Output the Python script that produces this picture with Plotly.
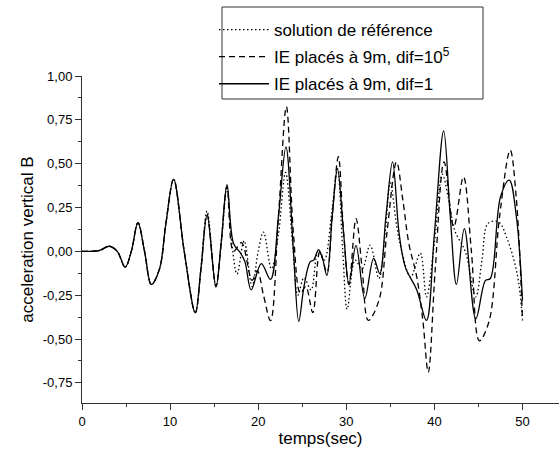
import plotly.graph_objects as go

# Time instants (s) and vertical acceleration at point B for each model
t_ref = [0, 1, 2, 3.1, 4.0, 4.9, 5.6, 6.35, 7.1, 7.87, 8.8, 9.5, 10.4, 11.6, 12.86, 13.5,
         14.2, 15.2, 15.8, 16.46, 17.0, 17.6, 18.4, 19.3, 20.0, 20.6, 21.5, 22.3, 23.1, 23.9,
         24.5, 25.2, 26.0, 26.8, 27.5, 28.3, 29.0, 29.6, 30.1, 31.0, 31.8, 32.7, 33.7, 34.4,
         35.0, 35.7, 36.3, 37.3, 38.4, 39.1, 40.0, 40.9, 41.6, 42.3, 43.5, 44.7, 45.4, 46.1,
         47.3, 48.2, 49.4, 50.0]
a_ref = [0, 0, 0.005, 0.029, 0.0, -0.09, 0.0, 0.164, 0.0, -0.189, -0.1, 0.15, 0.41, 0.0, -0.35, -0.1,
         0.23, -0.2, 0.05, 0.36, 0.05, -0.13, 0.06, -0.2, 0.0, 0.11, -0.1, 0.1, 0.45, 0.05,
         -0.25, -0.15, -0.22, 0.0, -0.05, 0.2, 0.47, 0.0, -0.33, -0.05, -0.1, 0.035, -0.155, 0.1,
         0.39, 0.15, 0.0, -0.147, -0.01, -0.26, 0.05, 0.44, 0.3, 0.12, 0.0, -0.26, -0.05, 0.16,
         0.167, 0.08, -0.13, -0.39]

t_d5 = [0, 1, 2, 3.1, 4.0, 4.9, 5.6, 6.35, 7.1, 7.87, 8.8, 9.5, 10.4, 11.6, 12.86, 13.5,
        14.2, 15.2, 15.8, 16.46, 17.2, 18.1, 19.3, 19.9, 20.6, 21.4, 22.3, 23.2, 24.0, 24.8,
        25.4, 26.2, 27.0, 27.8, 28.4, 29.1, 29.7, 30.3, 31.1, 31.8, 32.5, 33.7, 34.6, 35.7,
        36.4, 37.1, 38.0, 38.7, 39.3, 40.1, 41.1, 42.2, 43.3, 44.2, 45.1, 46.2, 47.4, 48.6,
        49.3, 50.0]
a_d5 = [0, 0, 0.005, 0.029, 0.0, -0.09, 0.0, 0.164, 0.0, -0.189, -0.1, 0.15, 0.41, 0.0, -0.35, -0.1,
        0.21, -0.2, 0.05, 0.37, 0.0, 0.05, -0.165, -0.11, -0.25, -0.395, 0.2, 0.825, 0.1, -0.24,
        -0.2, -0.35, 0.0, -0.12, 0.2, 0.54, 0.1, -0.19, 0.187, -0.1, -0.394, -0.28, 0.1, 0.51,
        0.3, 0.045, -0.147, -0.4, -0.69, -0.1, 0.51, 0.14, 0.425, 0.0, -0.51, -0.4, 0.2, 0.577,
        0.3, -0.394]

t_d1 = [0, 1, 2, 3.1, 4.0, 4.9, 5.6, 6.35, 7.1, 7.87, 8.8, 9.5, 10.4, 11.6, 12.86, 13.5,
        14.2, 15.2, 15.8, 16.46, 17.2, 18.0, 18.5, 19.2, 20.35, 21.4, 22.3, 23.15, 24.0, 24.6,
        25.2, 25.9, 26.3, 26.85, 27.3, 27.8, 28.4, 29.0, 29.7, 30.3, 31.1, 32.1, 33.1, 33.8,
        34.5, 35.25, 36.0, 36.7, 38.0, 39.1, 40.0, 41.05, 41.8, 42.5, 43.4, 44.7, 45.8, 46.35,
        47.5, 48.5, 49.3, 50.0]
a_d1 = [0, 0, 0.005, 0.029, 0.0, -0.09, 0.0, 0.164, 0.0, -0.189, -0.1, 0.15, 0.41, 0.0, -0.35, -0.1,
        0.206, -0.204, 0.05, 0.381, 0.045, -0.01, -0.06, -0.22, -0.07, -0.16, 0.2, 0.596, 0.0, -0.40,
        -0.2, -0.06, -0.05, 0.01, -0.04, -0.137, 0.2, 0.47, 0.1, -0.185, 0.034, -0.27, -0.04, -0.127,
        0.2, 0.51, 0.1, -0.09, -0.22, -0.394, 0.1, 0.687, 0.2, -0.189, 0.13, -0.385, -0.166, -0.155,
        0.31, 0.406, 0.2, -0.28]

series_names = ["solution de référence",
                "IE placés à 9m, dif=10<sup>5</sup>",
                "IE placés à 9m, dif=1"]

y_tickvals = [1.0, 0.75, 0.5, 0.25, 0.0, -0.25, -0.5, -0.75]
y_ticktext = ["1,00", "0,75", "0,50", "0,25", "0,00", "-0,25", "-0,50", "-0,75"]
x_tickvals = [0, 10, 20, 30, 40, 50]

FONT = "Liberation Sans, Arial, sans-serif"
W, H = 559, 462
L, R, T, B = 82, 0, 76, 59
pw, ph = W - L - R, H - T - B


def px_x(p):
    return (p - L) / pw


def px_y(p):
    return (H - B - p) / ph


fig = go.Figure()
fig.add_trace(go.Scatter(x=t_ref, y=a_ref, mode="lines", name=series_names[0],
                         line=dict(color="black", width=1.3, dash="1.5px,2.5px", shape="spline", smoothing=1.0),
                         legendgroup="a"))
fig.add_trace(go.Scatter(x=t_d5, y=a_d5, mode="lines", name=series_names[1],
                         line=dict(color="black", width=1.3, dash="6px,4px", shape="spline", smoothing=1.0),
                         legendgroup="b"))
fig.add_trace(go.Scatter(x=t_d1, y=a_d1, mode="lines", name=series_names[2],
                         line=dict(color="black", width=1.3, shape="spline", smoothing=1.0),
                         legendgroup="c"))

axis_common = dict(showline=True, linecolor="#333", linewidth=1, showgrid=False, zeroline=False,
                   ticks="outside", ticklen=6, tickcolor="#333", tickwidth=1,
                   tickfont=dict(family=FONT, size=13, color="black"))

fig.update_xaxes(range=[0, (W - L) / 8.81], tickvals=x_tickvals, **axis_common,
                 minor=dict(dtick=5, tick0=0, ticks="outside", ticklen=3, tickcolor="#333"),
                 title=dict(text="temps(sec)", font=dict(family=FONT, size=17, color="black"), standoff=1))
fig.update_yaxes(range=[-0.865, 1.0], tickvals=y_tickvals, ticktext=y_ticktext, **axis_common,
                 minor=dict(dtick=0.125, tick0=0, ticks="outside", ticklen=3, tickcolor="#333"),
                 title=dict(text="acceleration vertical B", font=dict(family=FONT, size=17, color="black"),
                            standoff=4))

fig.add_shape(type="rect", xref="paper", yref="paper",
              x0=px_x(222), x1=px_x(483), y0=px_y(99), y1=px_y(7),
              line=dict(color="#333", width=1), fillcolor="rgba(0,0,0,0)")

fig.update_layout(
    width=W, height=H, margin=dict(l=L, r=R, t=T, b=B),
    plot_bgcolor="white", paper_bgcolor="white",
    font=dict(family=FONT, color="black"),
    showlegend=True,
    legend=dict(x=px_x(214), y=px_y(12), xanchor="left", yanchor="top",
                bgcolor="rgba(0,0,0,0)", borderwidth=0, itemwidth=50,
                tracegroupgap=2, font=dict(family=FONT, size=17, color="black")),
)

fig.write_html("out.html")
